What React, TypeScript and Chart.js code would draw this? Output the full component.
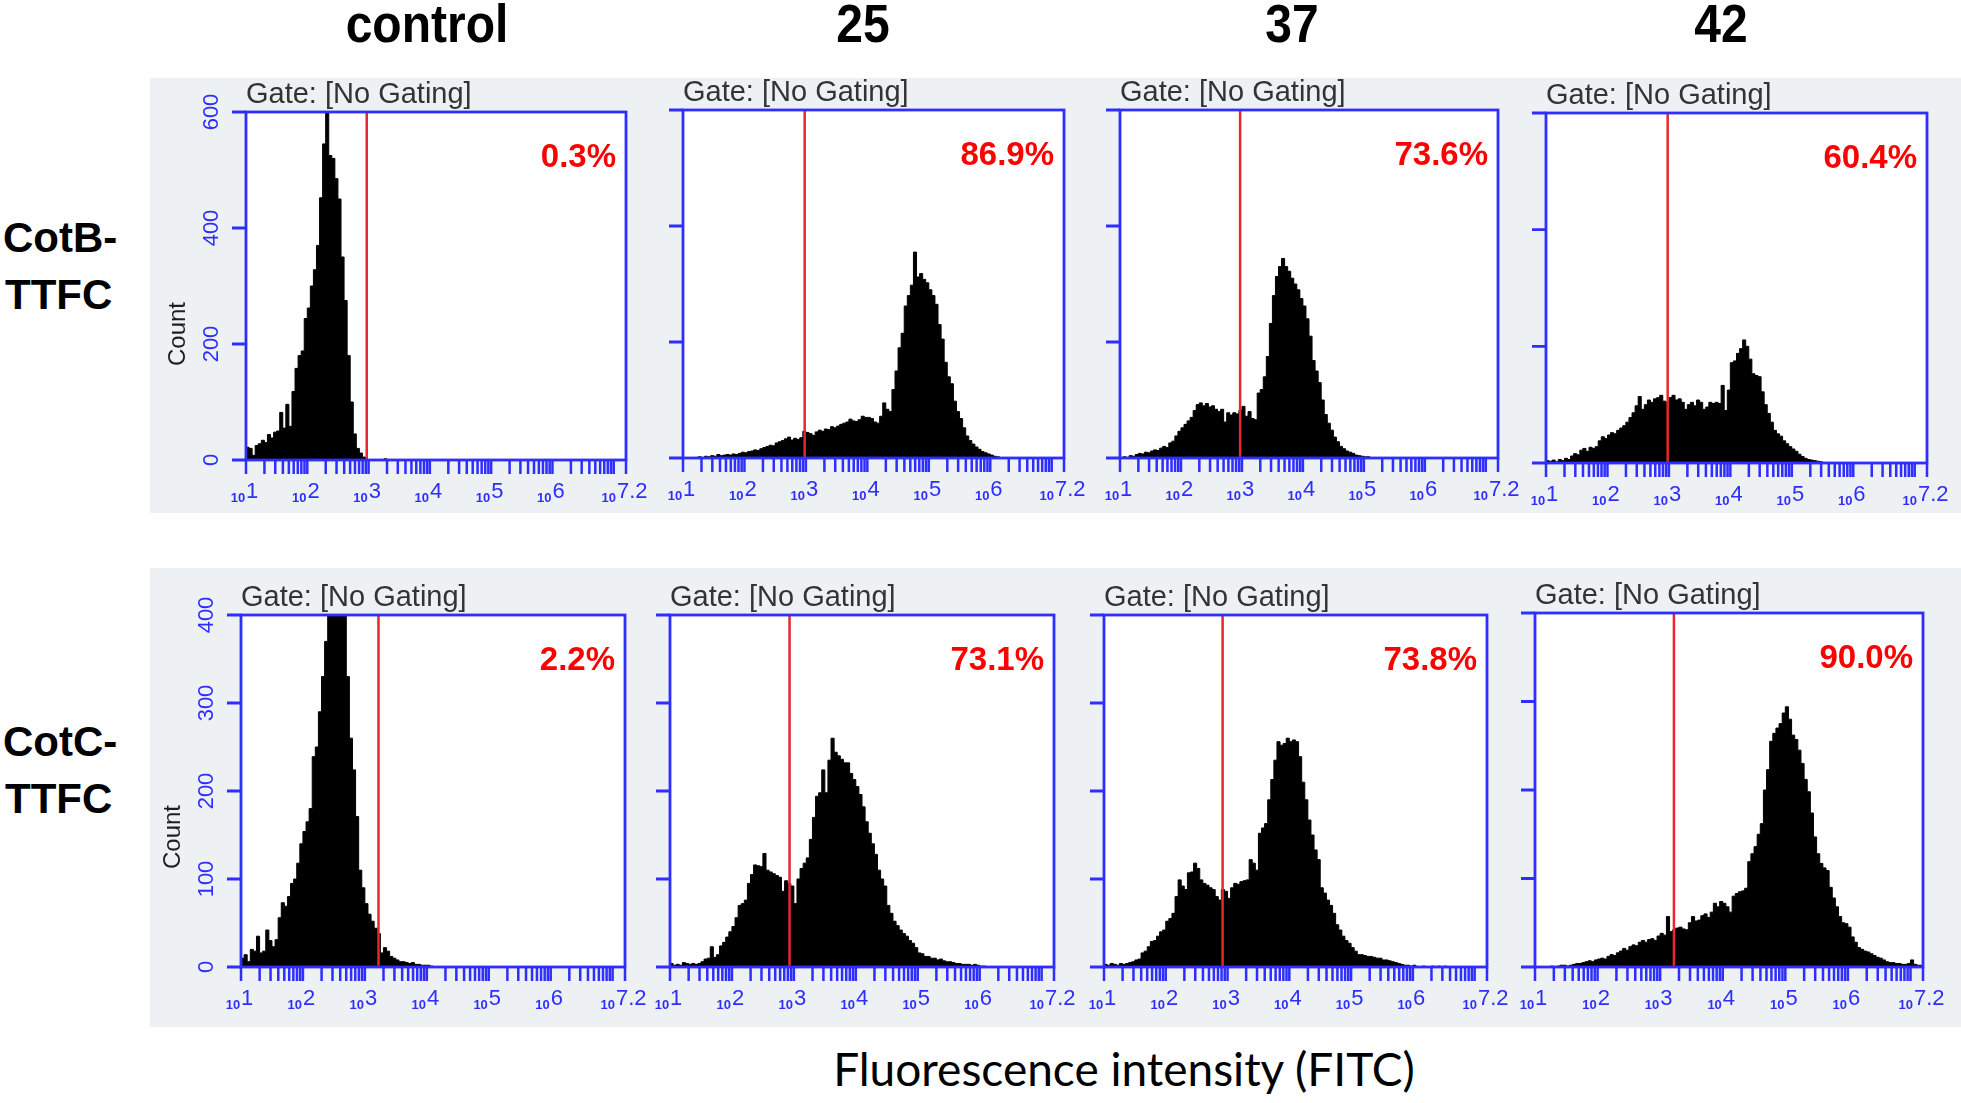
import React, { useEffect, useRef } from "react";
import { Chart, registerables } from "chart.js";

Chart.register(...registerables);

// ---------------- data ----------------
const BIN_START = 1.0; // log10 of the first channel's left edge
const BIN_WIDTH = 0.05; // decades per channel
const X_MIN = 1;
const X_MAX = 7.2;

const columnTitles = ["control", "25", "37", "42"];
const rowTitleLines = [
  ["CotB-", "TTFC"],
  ["CotC-", "TTFC"],
];
const xAxisTitle = "Fluorescence intensity (FITC)";
const gateTitle = "Gate: [No Gating]";
const yAxisTitle = "Count";

const topRowYTicks = [0, 200, 400, 600];
const bottomRowYTicks = [0, 100, 200, 300, 400];
const decadeTicks = [1, 2, 3, 4, 5, 6, 7];
const minorMultipliers = [2, 3, 4, 5, 6, 7, 8, 9];
const xTickExponents = ["1", "2", "3", "4", "5", "6", "7.2"];
const xTickValues = [1, 2, 3, 4, 5, 6, 7.2];

// CotB-TTFC, counts per channel starting at 10^1.00, 0.05 decade each
const cotbControl = [
  22, 20, 8, 25, 28, 34, 30, 44, 38, 48,
  50, 82, 55, 96, 58, 118, 158, 180, 188, 244,
  262, 300, 328, 370, 452, 545, 620, 525, 520, 485,
  450, 350, 275, 180, 100, 45, 20, 12, 5, 0,
  0, 0, 0, 0, 0, 2, 0,
];
const cotb25 = [
  0, 0, 0, 0, 1, 2, 1, 3, 2, 4,
  3, 6, 4, 5, 6, 5, 7, 6, 8, 10,
  9, 11, 12, 14, 13, 16, 18, 20, 22, 21,
  26, 28, 30, 33, 36, 31, 34, 32, 35, 46,
  44, 42, 39, 45, 48, 46, 50, 49, 54, 52,
  55, 58, 60, 62, 67, 64, 63, 66, 72, 70,
  70, 68, 62, 60, 72, 95, 84, 80, 118, 150,
  190, 215, 262, 280, 298, 355, 312, 318, 308, 302,
  290, 280, 265, 230, 205, 165, 140, 128, 98, 80,
  68, 52, 38, 30, 24, 19, 15, 11, 9, 7,
  5, 3, 2, 0,
];
const cotb37 = [
  0, 2, 1, 4, 3, 6, 8, 7, 10, 9,
  12, 14, 13, 17, 20, 18, 26, 29, 38, 46,
  52, 58, 64, 70, 82, 92, 95, 90, 94, 88,
  90, 84, 80, 84, 62, 78, 74, 78, 76, 82,
  89, 72, 80, 68, 66, 112, 118, 140, 175, 232,
  280, 313, 330, 344, 330, 322, 310, 300, 290, 275,
  262, 240, 210, 168, 150, 130, 100, 75, 60, 48,
  36, 28, 20, 16, 12, 10, 8, 5, 4, 3,
  2, 2, 0,
];
const cotb42 = [
  4, 3, 5, 2, 6, 4, 8, 6, 12, 16,
  14, 22, 25, 20, 27, 25, 28, 38, 45, 42,
  48, 52, 50, 56, 60, 64, 70, 78, 86, 98,
  114, 92, 100, 108, 104, 110, 112, 116, 106, 104,
  112, 116, 108, 110, 104, 92, 100, 104, 98, 108,
  104, 92, 96, 104, 102, 104, 102, 133, 90, 125,
  172, 175, 188, 196, 211, 200, 178, 153, 150, 148,
  122, 100, 85, 70, 56, 50, 46, 38, 33, 28,
  24, 20, 15, 11, 8, 6, 5, 4, 3, 2,
  1, 0,
];

// CotC-TTFC
const cotcControl = [
  10, 14, 6, 20, 18, 35, 16, 18, 42, 30,
  23, 31, 56, 73, 69, 80, 95, 100, 118, 140,
  154, 165, 180, 239, 250, 290, 330, 370, 420, 480,
  520, 500, 470, 430, 330, 260, 224, 171, 110, 90,
  72, 60, 52, 44, 38, 16, 22, 18, 12, 10,
  8, 6, 6, 5, 4, 5, 3, 3, 2, 2,
  2, 1, 0,
];
const cotc25 = [
  4, 2, 3, 2, 5, 4, 3, 4, 3, 4,
  6, 9, 10, 23, 11, 14, 24, 28, 34, 40,
  46, 56, 70, 72, 76, 95, 105, 116, 115, 114,
  129, 110, 108, 106, 104, 102, 86, 98, 95, 92,
  72, 100, 112, 118, 124, 145, 170, 194, 198, 224,
  198, 235, 260, 244, 240, 236, 232, 232, 220, 213,
  205, 196, 182, 165, 152, 140, 128, 110, 100, 92,
  70, 61, 52, 47, 42, 38, 35, 30, 27, 22,
  16, 15, 12, 12, 10, 10, 8, 9, 7, 6,
  6, 5, 4, 4, 3, 3, 3, 2, 3, 2,
  1, 1, 0,
];
const cotc37 = [
  3, 2, 4, 3, 2, 4, 3, 4, 5, 6,
  8, 9, 16, 18, 23, 29, 30, 35, 40, 42,
  52, 55, 61, 80, 99, 92, 88, 107, 108, 118,
  112, 99, 95, 93, 90, 88, 80, 76, 88, 86,
  78, 90, 95, 94, 97, 98, 99, 122, 118, 110,
  152, 158, 163, 190, 213, 235, 256, 252, 254, 260,
  256, 258, 256, 239, 210, 190, 167, 150, 133, 122,
  90, 84, 76, 70, 61, 48, 42, 35, 30, 27,
  22, 18, 14, 14, 13, 12, 12, 11, 10, 10,
  8, 8, 7, 6, 5, 4, 3, 2, 2, 1,
  2, 0, 0, 1, 0, 0, 1, 0, 1, 0,
  1, 0,
];
const cotc42 = [
  0, 0, 0, 0, 0, 1, 0, 1, 2, 2,
  1, 2, 3, 4, 4, 5, 6, 7, 6, 8,
  9, 10, 9, 12, 14, 13, 16, 18, 21, 19,
  23, 25, 24, 28, 30, 28, 31, 32, 30, 35,
  38, 36, 57, 40, 42, 44, 45, 43, 42, 50,
  57, 52, 53, 58, 60, 56, 62, 72, 68, 74,
  72, 68, 62, 80, 83, 85, 86, 89, 119, 128,
  136, 150, 162, 200, 223, 255, 264, 270, 275, 287,
  294, 280, 262, 257, 245, 230, 212, 198, 174, 147,
  128, 117, 112, 109, 90, 78, 68, 57, 50, 49,
  45, 34, 28, 22, 20, 18, 17, 15, 13, 11,
  10, 8, 6, 5, 5, 4, 4, 3, 3, 4,
  8, 3, 2, 2,
];

const topRowCounts = [cotbControl, cotb25, cotb37, cotb42];
const bottomRowCounts = [cotcControl, cotc25, cotc37, cotc42];
const topRowPercents = ["0.3%", "86.9%", "73.6%", "60.4%"];
const bottomRowPercents = ["2.2%", "73.1%", "73.8%", "90.0%"];
const topRowGates = [2.97, 2.98, 2.97, 2.98];
const bottomRowGates = [3.22, 2.93, 2.92, 3.22];

// ---------------- layout ----------------
const topRowBoxes = [
  [246, 112, 626, 460],
  [683, 110, 1064, 458],
  [1120, 110, 1498, 458],
  [1546, 113, 1927, 463],
];
const bottomRowBoxes = [
  [241, 615, 625, 967],
  [670, 615, 1054, 967],
  [1104, 615, 1487, 967],
  [1535, 613, 1923, 967],
];
const PAD = { left: 100, right: 44, top: 52, bottom: 56 };
const FONT = '"Liberation Sans", Arial, Helvetica, sans-serif';
const AXIS_BLUE = "#2e2eff";
const GATE_RED = "#e8262e";
const LABEL_RED = "#ff0000";
const PANEL_GRAY = "#edf1f4";

type PanelProps = {
  box: number[];
  counts: number[];
  yTicks: number[];
  gate: number;
  percent: string;
  showYLabels: boolean;
};

function Panel({ box, counts, yTicks, gate, percent, showYLabels }: PanelProps) {
  const ref = useRef<HTMLCanvasElement | null>(null);
  const [L, T, R, B] = box;
  const W = R - L + PAD.left + PAD.right;
  const H = B - T + PAD.top + PAD.bottom;

  useEffect(() => {
    const canvas = ref.current;
    if (!canvas) return;
    const yMax = yTicks[yTicks.length - 1];
    const histogram = counts.map((c, i) => ({ x: BIN_START + i * BIN_WIDTH, y: c }));
    histogram.push({ x: BIN_START + counts.length * BIN_WIDTH, y: 0 });

    const decor = {
      id: "facsDecor",
      beforeDatasetsDraw(chart: any) {
        const { ctx, chartArea } = chart;
        ctx.save();
        ctx.fillStyle = "#ffffff";
        ctx.fillRect(chartArea.left, chartArea.top, chartArea.right - chartArea.left, chartArea.bottom - chartArea.top);
        ctx.restore();
      },
      afterDatasetsDraw(chart: any) {
        const { ctx, chartArea } = chart;
        const { left, top, right, bottom } = chartArea;
        const xs = chart.scales.x;
        const ys = chart.scales.y;
        ctx.save();
        ctx.strokeStyle = AXIS_BLUE;
        ctx.lineWidth = 2.8;
        ctx.strokeRect(left, top, right - left, bottom - top);
        ctx.beginPath();
        for (const v of yTicks) {
          const py = ys.getPixelForValue(v);
          ctx.moveTo(left - 14, py);
          ctx.lineTo(left, py);
        }
        ctx.stroke();
        ctx.lineWidth = 2.5;
        ctx.beginPath();
        for (const d of decadeTicks) {
          for (const m of [1, ...minorMultipliers]) {
            const v = d + Math.log10(m);
            if (v > X_MAX + 1e-9) continue;
            const px = xs.getPixelForValue(v);
            ctx.moveTo(px, bottom);
            ctx.lineTo(px, bottom + 14);
          }
        }
        const pxEnd = xs.getPixelForValue(X_MAX);
        ctx.moveTo(pxEnd, bottom);
        ctx.lineTo(pxEnd, bottom + 14);
        ctx.stroke();

        ctx.fillStyle = AXIS_BLUE;
        ctx.textBaseline = "alphabetic";
        ctx.textAlign = "left";
        xTickValues.forEach((v, i) => {
          const px = xs.getPixelForValue(v);
          ctx.font = `bold 13px ${FONT}`;
          const w1 = ctx.measureText("10").width;
          ctx.font = `22px ${FONT}`;
          const w2 = ctx.measureText(xTickExponents[i]).width;
          const start = px - (w1 + w2) / 2 - 2;
          ctx.font = `bold 13px ${FONT}`;
          ctx.fillText("10", start, bottom + 42);
          ctx.font = `22px ${FONT}`;
          ctx.fillText(xTickExponents[i], start + w1 + 1, bottom + 38);
        });

        if (showYLabels) {
          ctx.font = `22px ${FONT}`;
          ctx.textAlign = "center";
          ctx.textBaseline = "middle";
          for (const v of yTicks) {
            const py = ys.getPixelForValue(v);
            ctx.save();
            ctx.translate(left - 34, py);
            ctx.rotate(-Math.PI / 2);
            ctx.fillText(String(v), 0, 0);
            ctx.restore();
          }
          ctx.fillStyle = "#1e1e1e";
          ctx.font = `24px ${FONT}`;
          ctx.save();
          ctx.translate(left - 68, top + 222);
          ctx.rotate(-Math.PI / 2);
          ctx.fillText(yAxisTitle, 0, 0);
          ctx.restore();
        }

        ctx.fillStyle = "#333333";
        ctx.font = `29px ${FONT}`;
        ctx.textAlign = "left";
        ctx.textBaseline = "alphabetic";
        ctx.fillText(gateTitle, left, top - 9);

        ctx.fillStyle = LABEL_RED;
        ctx.font = `bold 33px ${FONT}`;
        ctx.textAlign = "right";
        ctx.fillText(percent, right - 10, top + 55);
        ctx.restore();
      },
    };

    const chart = new Chart(canvas, {
      type: "line",
      data: {
        datasets: [
          {
            data: [
              { x: gate, y: 0 },
              { x: gate, y: yMax },
            ],
            borderColor: GATE_RED,
            borderWidth: 2.5,
            pointRadius: 0,
            fill: false,
            order: 0,
          },
          {
            data: histogram,
            stepped: "before",
            fill: "origin",
            backgroundColor: "#000000",
            borderColor: "#000000",
            borderWidth: 1,
            pointRadius: 0,
            order: 1,
          },
        ],
      },
      options: {
        animation: false,
        responsive: false,
        devicePixelRatio: 1,
        layout: { padding: PAD },
        plugins: { legend: { display: false }, tooltip: { enabled: false } },
        scales: {
          x: { type: "linear", min: X_MIN, max: X_MAX, display: false },
          y: { type: "linear", min: 0, max: yMax, display: false },
        },
      },
      plugins: [decor],
    } as any);
    return () => chart.destroy();
  }, []);

  return (
    <canvas
      ref={ref}
      width={W}
      height={H}
      style={{ position: "absolute", left: L - PAD.left, top: T - PAD.top, width: W, height: H }}
    />
  );
}

const columnCenters = [427, 863, 1292, 1721];

export default function App() {
  return (
    <div
      style={{
        position: "absolute",
        left: 0,
        top: 0,
        width: 1961,
        height: 1103,
        background: "#ffffff",
        overflow: "hidden",
        fontFamily: FONT,
      }}
    >
      <div style={{ position: "absolute", left: 150, top: 78, width: 1811, height: 435, background: PANEL_GRAY }} />
      <div style={{ position: "absolute", left: 150, top: 568, width: 1811, height: 459, background: PANEL_GRAY }} />

      {columnTitles.map((t, i) => (
        <div
          key={t}
          style={{
            position: "absolute",
            left: columnCenters[i],
            top: 2,
            transform: "translateX(-50%) scaleY(1.13)",
            transformOrigin: "50% 85%",
            fontWeight: "bold",
            fontSize: 48,
            lineHeight: "48px",
            whiteSpace: "nowrap",
            color: "#000",
          }}
        >
          {t}
        </div>
      ))}

      {rowTitleLines.map((lines, r) =>
        lines.map((line, j) => (
          <div
            key={`${r}-${j}`}
            style={{
              position: "absolute",
              left: j === 0 ? 3 : 5,
              top: (r === 0 ? 217 : 721) + j * 57,
              fontWeight: "bold",
              fontSize: 42,
              lineHeight: "42px",
              whiteSpace: "nowrap",
              color: "#000",
            }}
          >
            {line}
          </div>
        ))
      )}

      {topRowBoxes.map((b, i) => (
        <Panel
          key={`t${i}`}
          box={b}
          counts={topRowCounts[i]}
          yTicks={topRowYTicks}
          gate={topRowGates[i]}
          percent={topRowPercents[i]}
          showYLabels={i === 0}
        />
      ))}
      {bottomRowBoxes.map((b, i) => (
        <Panel
          key={`b${i}`}
          box={b}
          counts={bottomRowCounts[i]}
          yTicks={bottomRowYTicks}
          gate={bottomRowGates[i]}
          percent={bottomRowPercents[i]}
          showYLabels={i === 0}
        />
      ))}

      <div
        style={{
          position: "absolute",
          left: 1124,
          top: 1046,
          transform: "translateX(-50%)",
          fontFamily: "Lato, 'Open Sans', sans-serif",
          fontSize: 46,
          lineHeight: "46px",
          whiteSpace: "nowrap",
          color: "#000",
        }}
      >
        {xAxisTitle}
      </div>
    </div>
  );
}
